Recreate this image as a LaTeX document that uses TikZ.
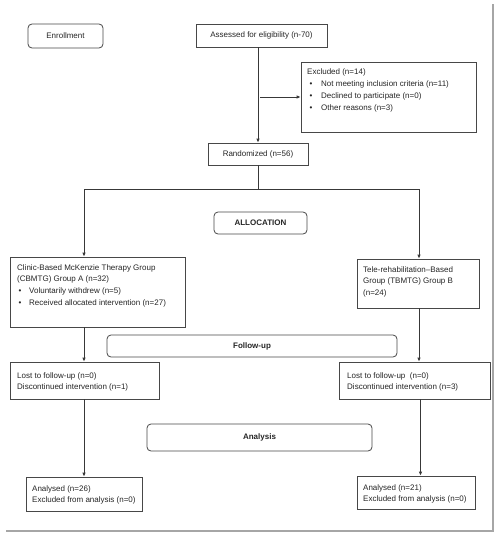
\documentclass[tikz,border=0pt]{standalone}
\usepackage{fontspec}
\setmainfont{Liberation Sans}
\usetikzlibrary{arrows.meta}
\begin{document}
\begin{tikzpicture}[x=1pt,y=-1pt,
  box/.style={draw=black!72, line width=0.8pt, inner sep=0pt, font=\fontsize{8}{11.7}\selectfont, text=black!85},
  rbox/.style={box, rounded corners=4pt},
  txt/.style={anchor=north west, inner sep=0pt, align=left, font=\fontsize{8}{11.7}\selectfont, text=black!85},
  conn/.style={draw=black!78, line width=0.8pt},
  arr/.style={conn, -{Latex[length=4pt,width=3.6pt]}},
  frame/.style={draw=black!35, line width=1.6pt}
]
\useasboundingbox (0,0) rectangle (500,538);
\fill[white] (0,0) rectangle (500,538);
\draw[frame] (493,4) -- (493,531) -- (6,531);

% boxes
\node[rbox, minimum width=75, minimum height=24] (enroll) at (65.5,36) {Enrollment};
\node[box, minimum width=131, minimum height=23] (assess) at (261.5,35.5) {Assessed for eligibility (n-70)};
\node[box, minimum width=175, minimum height=70] (exc) at (388.5,97) {};
\node[box, minimum width=100, minimum height=22] (rand) at (258,154) {Randomized (n=56)};
\node[rbox, minimum width=93, minimum height=22, font=\fontsize{8}{11.7}\selectfont\bfseries] (alloc) at (260.5,223) {ALLOCATION};
\node[box, minimum width=175, minimum height=70] (grpA) at (97.5,292) {};
\node[box, minimum width=122, minimum height=49] (grpB) at (418,283.5) {};
\node[rbox, minimum width=290, minimum height=22, font=\fontsize{8}{11.7}\selectfont\bfseries] (follow) at (252,346) {Follow-up};
\node[box, minimum width=149, minimum height=37] (lostA) at (84.5,380.5) {};
\node[box, minimum width=151, minimum height=37] (lostB) at (414.5,380.5) {};
\node[rbox, minimum width=225, minimum height=27, font=\fontsize{8}{11.7}\selectfont\bfseries] (analysis) at (259.5,437.5) {Analysis};
\node[box, minimum width=116, minimum height=34] (anaA) at (84,494) {};
\node[box, minimum width=118, minimum height=33] (anaB) at (416,492.5) {};

% texts
\node[txt] (excT) at (307,69) {Excluded (n=14)\\
\hspace{2.5pt}\makebox[11.5pt][l]{•}Not meeting inclusion criteria (n=11)\\
\hspace{2.5pt}\makebox[11.5pt][l]{•}Declined to participate (n=0)\\
\hspace{2.5pt}\makebox[11.5pt][l]{•}Other reasons (n=3)};
\node[txt] (grpAT) at (17,264) {Clinic-Based McKenzie Therapy Group\\
(CBMTG) Group A (n=32)\\
\hspace{1.5pt}\makebox[10.5pt][l]{•}Voluntarily withdrew (n=5)\\
\hspace{1.5pt}\makebox[10.5pt][l]{•}Received allocated intervention (n=27)};
\node[txt] (grpBT) at (363,266) {Tele-rehabilitation–Based\\Group (TBMTG) Group B\\(n=24)};
\node[txt] (lostAT) at (17,372) {Lost to follow-up (n=0)\\Discontinued intervention (n=1)};
\node[txt] (lostBT) at (347,372) {Lost to follow-up\ \ (n=0)\\Discontinued intervention (n=3)};
\node[txt] (anaAT) at (32,485) {Analysed (n=26)\\Excluded from analysis (n=0)};
\node[txt] (anaBT) at (363,484) {Analysed (n=21)\\Excluded from analysis (n=0)};

% connectors
\coordinate (split) at (258,189);
\coordinate (ja) at (84,189);
\coordinate (jb) at (419,189);
\draw[arr] (rand.north |- assess.south) -- (rand.north);
\draw[arr] (rand.north |- exc.west) ++(2,0) -- (exc.west);
\draw[conn] (rand.south) -- (split);
\draw[conn] (ja) -- (jb);
\draw[arr] (ja) -- (ja |- grpA.north);
\draw[arr] (jb) -- (jb |- grpB.north);
\draw[arr] (ja |- grpA.south) -- (ja |- lostA.north);
\draw[arr] (jb |- grpB.south) -- (jb |- lostB.north);
\draw[arr] (ja |- lostA.south) -- (ja |- anaA.north);
\draw[arr] ([xshift=1.5pt]jb |- lostB.south) -- ([xshift=1.5pt]jb |- anaB.north);
\end{tikzpicture}
\end{document}
